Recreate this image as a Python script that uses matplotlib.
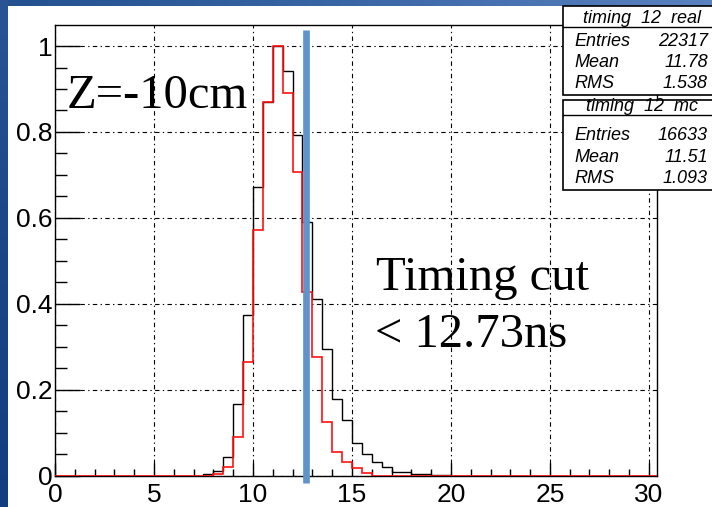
import numpy as np
import matplotlib.pyplot as plt
from matplotlib.colors import LinearSegmentedColormap
from matplotlib.patches import Rectangle
from matplotlib.lines import Line2D
from matplotlib.ticker import MultipleLocator

# ---- data (normalised histograms, bin width 0.5 ns) ----
bin_width = 0.5
x_max = 30.5
real_first_bin = 7.5
real_vals = [0.003, 0.012, 0.044, 0.167, 0.373, 0.671, 0.870, 1.000, 0.941,
             0.794, 0.591, 0.412, 0.295, 0.178, 0.129, 0.077, 0.050, 0.031,
             0.021, 0.008, 0.008, 0.004, 0.004, 0.001, 0.001]
mc_first_bin = 8.0
mc_vals = [0.004, 0.020, 0.089, 0.264, 0.573, 0.870, 1.000, 0.891, 0.708,
           0.427, 0.276, 0.126, 0.056, 0.033, 0.017, 0.006]

cut_position = 12.66
x_ticks = [0, 5, 10, 15, 20, 25, 30]
y_ticks = [0, 0.2, 0.4, 0.6, 0.8, 1.0]
y_ticklabels = ["0", "0.2", "0.4", "0.6", "0.8", "1"]

stat_boxes = [
    ("timing  12  real", [("Entries", "22317"), ("Mean", "11.78"), ("RMS", "1.538")]),
    ("timing  12  mc", [("Entries", "16633"), ("Mean", "11.51"), ("RMS", "1.093")]),
]

W, H = 712, 507
edges = np.arange(0, x_max + bin_width / 2, bin_width)


def full_hist(first_bin, vals):
    out = np.zeros(len(edges) - 1)
    i0 = int(round(first_bin / bin_width))
    out[i0:i0 + len(vals)] = vals
    return out


def fx(px):
    return px / W


def fy(py):
    return 1 - py / H


fig = plt.figure(figsize=(W / 100, H / 100), dpi=100, facecolor="white")

# slide background strips
top = fig.add_axes([0, fy(6), 1, 6 / H])
top.imshow(np.linspace(0, 1, 256)[None, :], aspect="auto",
           cmap=LinearSegmentedColormap.from_list("t", ["#24508f", "#3b66a6", "#5a82c0"]))
top.axis("off")
left = fig.add_axes([0, 0, 8 / W, 1])
left.imshow(np.linspace(0, 1, 256)[:, None], aspect="auto",
            cmap=LinearSegmentedColormap.from_list("l", ["#2a5595", "#1a4686", "#123d7e"]))
left.axis("off")

ax = fig.add_axes([fx(55), fy(475.7), fx(657) - fx(55), (475.7 - 25) / H])
ax.set_xlim(0, 30.41)
ax.set_ylim(0, 1.049)

ax.stairs(full_hist(real_first_bin, real_vals), edges, color="black", lw=1.0, zorder=3)
ax.stairs(full_hist(mc_first_bin, mc_vals), edges, color="#ff1010", lw=1.2, zorder=4)

ax.plot([cut_position, cut_position], [-0.017, 1.038], color="#5f93c9",
        lw=4.8, solid_capstyle="butt", clip_on=False, zorder=5)

ax.set_xticks(x_ticks)
ax.set_yticks(y_ticks)
ax.set_yticklabels(y_ticklabels)
ax.xaxis.set_minor_locator(MultipleLocator(1))
ax.yaxis.set_minor_locator(MultipleLocator(0.05))
ax.tick_params(which="both", direction="in", top=False, right=False, width=1.0,
               colors="black")
ax.tick_params(axis="x", which="major", length=9.5, pad=5.5)
ax.tick_params(axis="x", which="minor", length=5)
ax.tick_params(axis="y", which="major", length=18, pad=1.5)
ax.tick_params(axis="y", which="minor", length=8.5)
for lab in ax.get_xticklabels() + ax.get_yticklabels():
    lab.set_fontfamily("Liberation Sans")
    lab.set_fontsize(19)
ax.grid(True, which="major", color="black", lw=0.8, linestyle=(0, (4, 3, 1.2, 3)))
for s in ax.spines.values():
    s.set_linewidth(1.0)

# annotations
serif = dict(family="Liberation Serif", fontsize=35, color="black")
fig.text(fx(67), fy(108), "Z=-10cm", va="baseline", ha="left", **serif)
fig.text(fx(376), fy(290), "Timing cut", va="baseline", ha="left", **serif)
fig.text(fx(375), fy(347), "< 12.73ns", va="baseline", ha="left", **serif)

# ROOT-like stat boxes: (top, title separator, bottom) in pixels
box_rows = [(6, 27, 95), (100, 115, 190)]
row_offsets = [54, 32.5, 11.5]  # row centres above the box bottom
for (title, rows), (ytop, y_sep, ybot) in zip(stat_boxes, box_rows):
    fig.patches.append(Rectangle((fx(563), fy(ybot)), fx(715) - fx(563),
                                 fy(ytop) - fy(ybot), transform=fig.transFigure,
                                 facecolor="white", edgecolor="black", lw=1.2,
                                 zorder=10))
    fig.lines.append(Line2D([fx(563), fx(715)], [fy(y_sep), fy(y_sep)],
                            transform=fig.transFigure, color="black", lw=1.0,
                            zorder=11))
    fig.text(fx(642), fy(y_sep - 4), title, ha="center", va="baseline",
             family="Liberation Sans", style="italic", fontsize=13, zorder=12)
    for (name, val), off in zip(rows, row_offsets):
        yc = ybot - off
        fig.text(fx(574), fy(yc), name, ha="left", va="center",
                 family="Liberation Sans", style="italic", fontsize=13, zorder=12)
        fig.text(fx(708), fy(yc), val, ha="right", va="center",
                 family="Liberation Sans", style="italic", fontsize=13, zorder=12)

fig.savefig("out.png", dpi=100, facecolor="white")
